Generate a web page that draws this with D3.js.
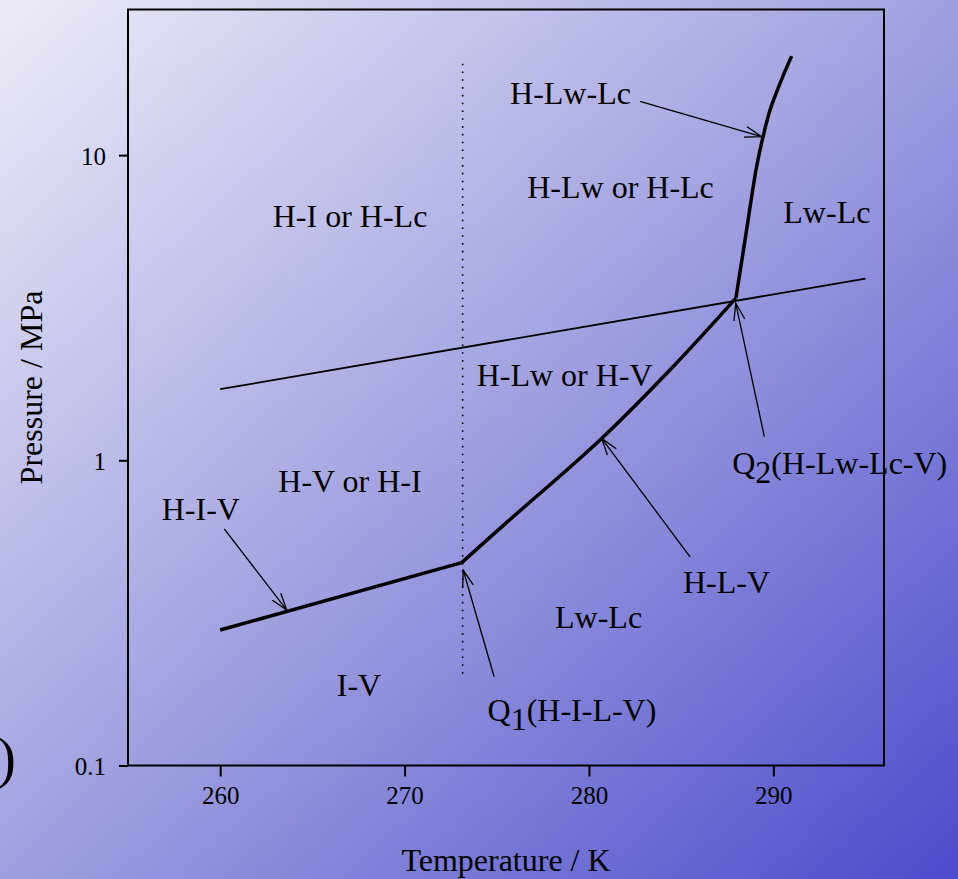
<!DOCTYPE html>
<html>
<head>
<meta charset="utf-8">
<script src="https://cdn.jsdelivr.net/npm/d3@7"></script>
<style>
  body { margin: 0; }
  svg { display: block; font-family: "Liberation Serif", "DejaVu Serif", serif; }
</style>
</head>
<body>
<div id="chart-area"></div>
<script>
// DATA  (T in K, P in MPa)

let xTicks = [260, 270, 280, 290]
let yTicks = [0.1, 1, 10]

// H-I-V : up to Q1
let hivCurve = [[260, 0.278], [273.1, 0.462]]
// H-L-V : Q1 to Q2
let hlvCurve = [[273.1, 0.462], [275.54, 0.626], [280.6, 1.166], [284.57, 2.03], [287.97, 3.4]]
// H-Lw-Lc : from Q2 upwards
let hlwlcCurve = [[287.97, 3.4], [288.49, 5.4], [289.09, 9.16], [289.44, 11.49],
                  [289.82, 14.05], [290.36, 17.19], [290.99, 21.1]]
// thin line
let thinLine = [[260, 1.71], [295, 3.94]]
// 273.15 K dotted line
let dottedLine = [[273.15, 0.2], [273.15, 20]]

let regionLabels = [
    ["H-Lw-Lc", 275.72, 14.68],
    ["H-Lw or H-Lc", 276.65, 7.22],
    ["H-I or H-Lc", 262.85, 5.8],
    ["Lw-Lc", 290.54, 6.0],
    ["H-Lw or H-V", 273.91, 1.756],
    ["H-V or H-I", 263.15, 0.786],
    ["H-I-V", 256.83, 0.637],
    ["I-V", 266.32, 0.169],
    ["Lw-Lc", 278.16, 0.283],
    ["H-L-V", 285.1, 0.368]
]

// quadruple point labels: [main, subscript, rest, T, P]
let quadLabels = [
    ["Q", "1", "(H-I-L-V)", 274.5, 0.1404],
    ["Q", "2", "(H-Lw-Lc-V)", 287.77, 0.902]
]

// arrows: [fromT, fromP, toT, toP]
let arrows = [
    [282.77, 15.0, 289.36, 11.5],
    [260.22, 0.596, 263.61, 0.323],
    [274.86, 0.195, 273.18, 0.437],
    [285.48, 0.483, 280.69, 1.18],
    [289.51, 1.195, 287.96, 3.27]
]

// CHART AREA

let width = 958, height = 879
let margin = {top: 9.5, right: 74, bottom: 113.5, left: 128}
let plotW = width - margin.left - margin.right,
    plotH = height - margin.top - margin.bottom

let svg = d3.select("#chart-area").append("svg")
    .attr("width", width)
    .attr("height", height)

let defs = svg.append("defs")

let grad = defs.append("linearGradient")
    .attr("id", "bg")
    .attr("x1", 0).attr("y1", 0)
    .attr("x2", 1).attr("y2", 1)
grad.append("stop").attr("offset", "0%").attr("stop-color", "#ececf8")
grad.append("stop").attr("offset", "50%").attr("stop-color", "#a0a0e0")
grad.append("stop").attr("offset", "100%").attr("stop-color", "#4c4ccc")

defs.append("marker")
    .attr("id", "arrowhead")
    .attr("viewBox", "0 -7 18 14")
    .attr("refX", 17)
    .attr("refY", 0)
    .attr("markerUnits", "userSpaceOnUse")
    .attr("markerWidth", 18)
    .attr("markerHeight", 14)
    .attr("orient", "auto")
    .append("path")
    .attr("d", "M0,-5.5L17,0L0,5.5")
    .attr("fill", "none")
    .attr("stroke", "#000")
    .attr("stroke-width", 1.3)

svg.append("rect")
    .attr("width", width)
    .attr("height", height)
    .attr("fill", "url(#bg)")

// left-over label fragment at the edge (cut off in the original too)
svg.append("text")
    .attr("x", 16)
    .attr("y", 777)
    .attr("text-anchor", "end")
    .attr("font-size", 56)
    .text(")")

let g = svg.append("g")
    .attr("transform", "translate(" + margin.left + "," + margin.top + ")")

let x = d3.scaleLinear().domain([255, 296]).range([0, plotW])
let y = d3.scaleLog().domain([0.1, 30]).range([plotH, 0])

// axes
let xAxis = g.append("g")
    .attr("transform", "translate(0," + plotH + ")")
    .call(d3.axisBottom(x).tickValues(xTicks).tickSize(11).tickPadding(9).tickSizeOuter(0))
let yAxis = g.append("g")
    .call(d3.axisLeft(y).tickValues(yTicks).tickFormat(d3.format("~g")).tickSize(9).tickPadding(13).tickSizeOuter(0))

;[xAxis, yAxis].forEach(ax => {
    ax.select(".domain").remove()
    ax.selectAll(".tick line").attr("stroke", "#000").attr("stroke-width", 2)
    ax.selectAll(".tick text")
        .attr("font-family", "Liberation Serif")
        .attr("font-size", 25)
        .attr("fill", "#000")
})
xAxis.selectAll(".tick text").attr("dy", "0.72em")
yAxis.selectAll(".tick text").attr("dy", "0.36em")

g.append("rect")
    .attr("width", plotW)
    .attr("height", plotH)
    .attr("fill", "none")
    .attr("stroke", "#000")
    .attr("stroke-width", 2)

let line = d3.line().x(d => x(d[0])).y(d => y(d[1]))
let smooth = d3.line().x(d => x(d[0])).y(d => y(d[1])).curve(d3.curveCatmullRom)

g.append("path")
    .attr("d", line(dottedLine))
    .attr("fill", "none")
    .attr("stroke", "#000")
    .attr("stroke-width", 1.6)
    .attr("stroke-dasharray", "1.6,6.2")

g.append("path")
    .attr("d", line(thinLine))
    .attr("fill", "none")
    .attr("stroke", "#000")
    .attr("stroke-width", 1.8)

;[[hivCurve, line], [hlvCurve, smooth], [hlwlcCurve, smooth]].forEach(c => {
    g.append("path")
        .attr("d", c[1](c[0]))
        .attr("fill", "none")
        .attr("stroke", "#000")
        .attr("stroke-width", 3.5)
        .attr("stroke-linejoin", "round")
})

g.selectAll(".arrow").data(arrows)
    .enter()
    .append("line")
    .attr("class", "arrow")
    .attr("x1", d => x(d[0]))
    .attr("y1", d => y(d[1]))
    .attr("x2", d => x(d[2]))
    .attr("y2", d => y(d[3]))
    .attr("stroke", "#000")
    .attr("stroke-width", 1.3)
    .attr("marker-end", "url(#arrowhead)")

g.selectAll(".region").data(regionLabels)
    .enter()
    .append("text")
    .attr("class", "region")
    .attr("x", d => x(d[1]))
    .attr("y", d => y(d[2]))
    .attr("font-size", 32)
    .attr("fill", "#000")
    .text(d => d[0])

quadLabels.forEach(d => {
    let t = g.append("text")
        .attr("x", x(d[3]))
        .attr("y", y(d[4]))
        .attr("font-size", 32)
        .attr("fill", "#000")
    t.append("tspan").text(d[0])
    t.append("tspan").attr("dy", 9).text(d[1])
    t.append("tspan").attr("dy", -9).text(d[2])
})

// axis titles
svg.append("text")
    .attr("x", margin.left + plotW / 2)
    .attr("y", 871)
    .attr("text-anchor", "middle")
    .attr("font-size", 32)
    .text("Temperature / K")

svg.append("text")
    .attr("transform", "translate(42," + (margin.top + plotH / 2) + ") rotate(-90)")
    .attr("text-anchor", "middle")
    .attr("font-size", 32)
    .text("Pressure / MPa")
</script>
</body>
</html>
